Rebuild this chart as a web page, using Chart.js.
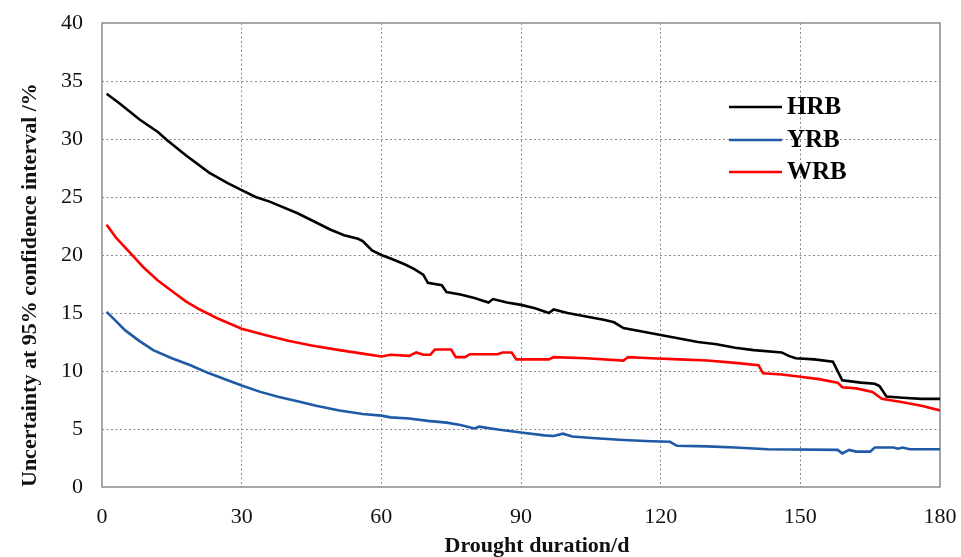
<!DOCTYPE html>
<html>
<head>
<meta charset="utf-8">
<script src="https://cdn.jsdelivr.net/npm/chart.js@4/dist/chart.umd.min.js"></script>
<style>
  html, body { margin: 0; padding: 0; background: #ffffff; }
  #wrap { width: 961px; height: 557px; position: relative; }
</style>
</head>
<body>
<div id="wrap"><canvas id="c" width="961" height="557"></canvas></div>
<script>
// ---- Data ----
const seriesNames = ["HRB", "YRB", "WRB"];
const xTicks = [0, 30, 60, 90, 120, 150, 180];
const yTicks = [0, 5, 10, 15, 20, 25, 30, 35, 40];

const hrbDays = [1,4,8,12,14,18,23,27,30,33,36,42,46,49,52,55,56,58,60,62,65,67,69,70,73,74,77,80,83,84,87,90,93,96,97,100,104,108,110,112,116,120,124,128,132,136,140,146,147.5,149,153,157,159,163,166,167,168.5,172,176,180];
const hrbVals = [33.9,33.0,31.7,30.6,29.9,28.6,27.1,26.2,25.6,25.0,24.6,23.6,22.8,22.2,21.7,21.4,21.2,20.4,20.0,19.7,19.2,18.8,18.3,17.6,17.4,16.8,16.6,16.3,15.9,16.2,15.9,15.7,15.4,15.0,15.3,15.0,14.7,14.4,14.2,13.7,13.4,13.1,12.8,12.5,12.3,12.0,11.8,11.6,11.3,11.1,11.0,10.8,9.2,9.0,8.9,8.7,7.8,7.7,7.6,7.6];

const yrbDays = [1,3,5,8,11,15,19,23,27,30,34,38,42,46,51,56,60,62,66,70,74,77,80,81,85,90,95,97,99,101,106,112,118,122,123.5,130,136,143,158,159,160.5,162,165,166,170,171,172,173.5,180];
const yrbVals = [15.1,14.3,13.5,12.6,11.8,11.1,10.5,9.8,9.2,8.75,8.2,7.75,7.4,7.0,6.6,6.3,6.15,6.0,5.9,5.7,5.55,5.35,5.05,5.2,4.95,4.7,4.45,4.4,4.6,4.35,4.2,4.05,3.95,3.9,3.55,3.5,3.4,3.25,3.2,2.9,3.2,3.05,3.05,3.4,3.4,3.3,3.4,3.25,3.25];

const wrbDays = [1,3,6,9,12,15,18,21,25,30,35,40,45,51,56,60,62,66,67.5,69,70.5,71.5,75,76,78,79,85,86,88,89,96,97,104,112,113,118,124,130,136,141,142,146,150,154,158,159,162,165.5,167.5,172,176,180];
const wrbVals = [22.6,21.5,20.2,18.9,17.8,16.9,16.0,15.3,14.5,13.65,13.1,12.6,12.2,11.8,11.5,11.25,11.4,11.3,11.6,11.4,11.4,11.85,11.85,11.2,11.2,11.45,11.45,11.6,11.6,11.0,11.0,11.2,11.1,10.9,11.2,11.1,11.0,10.9,10.7,10.5,9.8,9.7,9.5,9.3,9.0,8.6,8.5,8.2,7.6,7.3,7.0,6.6];

const xTitle = "Drought duration/d";
const yTitle = "Uncertainty at 95% confidence interval /%";

// ---- Styles ----
const colors = ["#000000", "#1f5aa6", "#ff0000"];
const serif = "'Liberation Serif', 'Times New Roman', serif";

function pts(days, vals) { return days.map((d, i) => ({ x: d, y: vals[i] })); }

const boxPlugin = {
  id: 'box',
  beforeDatasetsDraw(chart) {
    const { ctx, chartArea: a } = chart;
    ctx.save();
    ctx.strokeStyle = '#8a8a8a';
    ctx.lineWidth = 1.5;
    ctx.strokeRect(a.left, a.top, a.right - a.left, a.bottom - a.top);
    ctx.restore();
  }
};

const textPlugin = {
  id: 'texts',
  afterDatasetsDraw(chart) {
    const { ctx } = chart;
    const x0 = 729, x1 = 782, tx = 787, ys = [107, 140, 172];
    ctx.save();
    chart.data.datasets.forEach((ds, i) => {
      ctx.strokeStyle = ds.borderColor;
      ctx.lineWidth = 2.6;
      ctx.beginPath();
      ctx.moveTo(x0, ys[i]);
      ctx.lineTo(x1, ys[i]);
      ctx.stroke();
      ctx.fillStyle = '#000';
      ctx.font = "bold 25px " + serif;
      ctx.textBaseline = 'middle';
      ctx.textAlign = 'left';
      ctx.fillText(ds.label, tx, ys[i] + 1);
    });
    // x axis title (offset to the right as in the reference)
    ctx.fillStyle = '#111';
    ctx.font = "bold 22px " + serif;
    ctx.textAlign = 'center';
    ctx.textBaseline = 'middle';
    ctx.fillText(xTitle, 537, 546);
    ctx.restore();
  }
};

const gridColor = (edgeVals) => (c) => edgeVals.includes(c.tick.value) ? 'rgba(0,0,0,0)' : '#8c8c8c';

new Chart(document.getElementById('c'), {
  type: 'line',
  data: {
    datasets: [
      { label: seriesNames[0], data: pts(hrbDays, hrbVals), borderColor: colors[0] },
      { label: seriesNames[1], data: pts(yrbDays, yrbVals), borderColor: colors[1] },
      { label: seriesNames[2], data: pts(wrbDays, wrbVals), borderColor: colors[2] }
    ].map(d => Object.assign(d, { borderWidth: 2.6, pointRadius: 0, tension: 0, fill: false, backgroundColor: d.borderColor }))
  },
  options: {
    responsive: false,
    animation: false,
    devicePixelRatio: 1,
    layout: { padding: { left: 17, right: 21, top: 23, bottom: 0 } },
    plugins: { legend: { display: false }, tooltip: { enabled: false } },
    scales: {
      x: {
        type: 'linear', min: 0, max: 180,
        afterBuildTicks: (s) => { s.ticks = xTicks.map(v => ({ value: v })); },
        afterFit: (s) => { s.height = 70; s.paddingLeft = 0; s.paddingRight = 0; },
        ticks: { font: { family: serif, size: 22 }, color: '#111', padding: 17, maxRotation: 0 },
        grid: { color: gridColor([0, 180]), lineWidth: 1, drawTicks: false },
        border: { display: false, dash: [2, 2.5] },
        title: { display: false }
      },
      y: {
        type: 'linear', min: 0, max: 40,
        afterBuildTicks: (s) => { s.ticks = yTicks.map(v => ({ value: v })); },
        afterFit: (s) => { s.width = 85; s.paddingTop = 0; s.paddingBottom = 0; },
        ticks: { font: { family: serif, size: 22 }, color: '#111', padding: 19 },
        grid: { color: gridColor([0, 40]), lineWidth: 1, drawTicks: false },
        border: { display: false, dash: [2, 2.5] },
        title: { display: true, text: yTitle, align: 'start', font: { family: serif, size: 22, weight: 'bold' }, color: '#111', padding: { top: 0, bottom: 0 } }
      }
    }
  },
  plugins: [boxPlugin, textPlugin]
});
</script>
</body>
</html>
